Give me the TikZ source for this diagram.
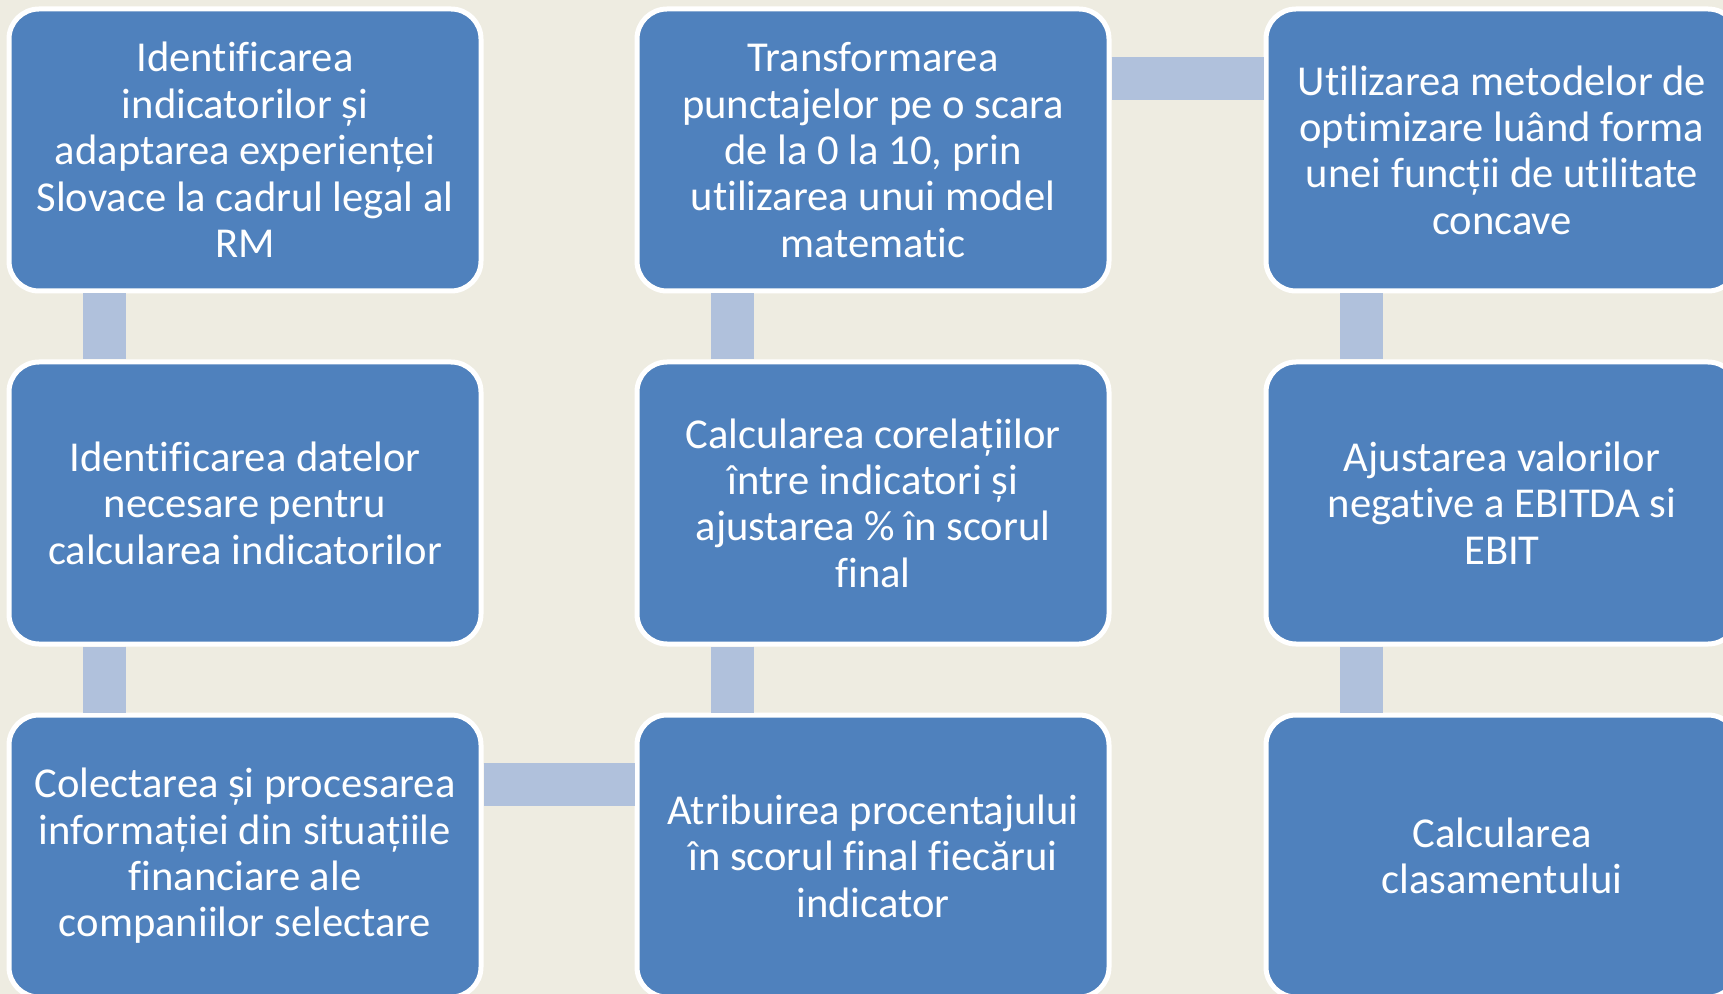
\documentclass[tikz,border=0pt]{standalone}
\usepackage{fontspec}
\setmainfont{Carlito}[Ligatures=NoCommon]
\definecolor{fond}{HTML}{EEECE1}
\definecolor{bleu}{HTML}{4F81BD}
\definecolor{liaison}{HTML}{B0C1DC}
\begin{document}
\begin{tikzpicture}[x=0.5pt, y=-0.5pt]
	\tikzset{etape/.style={rectangle, rounded corners=15pt, fill=bleu, draw=white, line width=2.5pt, text=white, align=center, minimum width=236pt, minimum height=141pt, inner sep=0pt, font=\fontsize{21.3}{23.2}\selectfont},
	lien/.style={draw=liaison, line width=21.5pt}};

	\useasboundingbox[fill=fond] (0,0) rectangle (1723,994);
	\clip (0,0) rectangle (1723,994);

	\foreach \name/\x/\y/\texte in {
		a1/245/150/{Identificarea\\indicatorilor și\\adaptarea experienței\\Slovace la cadrul legal al\\RM},
		a2/245/503/{Identificarea datelor\\necesare pentru\\calcularea indicatorilor},
		a3/245/856/{Colectarea și procesarea\\informației din situațiile\\financiare ale\\companiilor selectare},
		b1/873/150/{Transformarea\\punctajelor pe o scara\\de la 0 la 10, prin\\utilizarea unui model\\matematic},
		b2/873/503/{Calcularea corelațiilor\\între indicatori și\\ajustarea \% în scorul\\final},
		b3/873/856/{Atribuirea procentajului\\în scorul final fiecărui\\indicator},
		c1/1502/150/{Utilizarea metodelor de\\optimizare luând forma\\unei funcții de utilitate\\concave},
		c2/1502/503/{Ajustarea valorilor\\negative a EBITDA si\\EBIT},
		c3/1502/856/{Calcularea\\clasamentului}}{
		\node[etape] (\name) at (\x, \y) {\texte};
	}

	\foreach \haut/\bas in {a1/a2, a2/a3, b1/b2, b2/b3, c1/c2, c2/c3}
		\draw[lien] ([xshift=49pt]\haut.south west) -- ([xshift=49pt]\bas.north west);

	\draw[lien] ([yshift=-36pt]a3.north east) -- ([yshift=-36pt]b3.north west);
	\draw[lien] ([yshift=-36pt]b1.north east) -- ([yshift=-36pt]c1.north west);

\end{tikzpicture}
\end{document}
